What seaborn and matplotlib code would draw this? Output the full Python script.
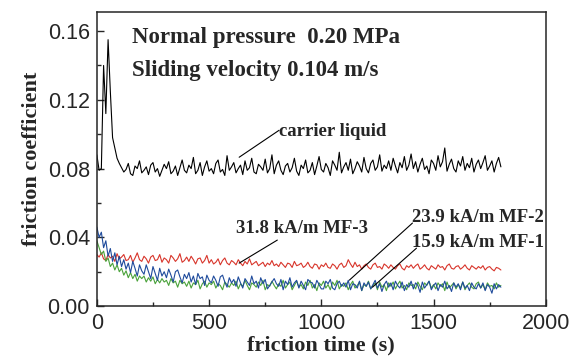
import numpy as np
import pandas as pd
import matplotlib
matplotlib.use("Agg")
import matplotlib.pyplot as plt
import seaborn as sns

# friction time (s), one reading every 10 s
time_s = np.arange(0, 1810, 10)

# friction coefficient readings, in units of 1e-4
carrier = [880, 790, 800, 1400, 1120, 1550, 1250, 980, 920, 860, 830,
           805, 780, 795, 830, 770, 760, 815, 800, 845, 775,
           790, 810, 765, 820, 835, 780, 800, 755, 790, 825,
           800, 840, 770, 785, 815, 760, 805, 850, 790, 775,
           820, 800, 865, 770, 790, 835, 760, 810, 845, 785,
           800, 770, 830, 850, 780, 795, 760, 875, 790, 810,
           835, 775, 800, 820, 765, 845, 790, 805, 860, 780,
           770, 825, 810, 790, 855, 775, 800, 880, 770, 820,
           845, 790, 765, 815, 830, 780, 805, 860, 785, 760,
           820, 800, 850, 775, 790, 835, 765, 815, 870, 795,
           780, 830, 805, 760, 845, 820, 790, 895, 775, 810,
           835, 790, 855, 770, 800, 840, 815, 780, 865, 800,
           775, 830, 850, 790, 810, 880, 785, 820, 800, 845,
           790, 860, 815, 775, 835, 805, 870, 790, 820, 885,
           800, 840, 780, 825, 860, 795, 815, 770, 850, 830,
           790, 875, 810, 840, 920, 785, 825, 855, 800, 780,
           845, 815, 870, 790, 830, 805, 860, 780, 825, 850,
           800, 835, 875, 790, 815, 845, 780, 830, 865, 810]

mf3 = [300, 285, 310, 275, 265, 300, 280, 290, 260, 305, 275,
       285, 300, 265, 270, 295, 255, 280, 310, 270, 260,
       290, 275, 250, 285, 295, 265, 270, 300, 255, 280,
       270, 250, 295, 280, 260, 275, 305, 255, 265, 285,
       260, 290, 270, 245, 275, 280, 250, 265, 295, 250,
       270, 245, 255, 275, 240, 265, 280, 250, 240, 265,
       255, 240, 270, 250, 235, 260, 245, 275, 240, 250,
       260, 235, 245, 255, 230, 250, 240, 265, 235, 245,
       230, 255, 240, 225, 250, 245, 225, 260, 235, 240,
       250, 225, 235, 255, 230, 220, 245, 240, 215, 240,
       230, 250, 225, 220, 245, 235, 215, 240, 250, 225,
       235, 270, 245, 225, 255, 230, 240, 215, 235, 245,
       225, 215, 240, 250, 225, 230, 215, 245, 235, 220,
       240, 225, 215, 235, 245, 220, 210, 235, 225, 240,
       220, 235, 245, 215, 225, 240, 220, 210, 235, 225,
       215, 240, 225, 230, 210, 235, 245, 220, 215, 230,
       235, 215, 225, 240, 220, 210, 235, 225, 215, 230,
       220, 235, 210, 225, 230, 215, 205, 225, 220, 210]

mf2 = [460, 400, 430, 340, 380, 290, 335, 260, 310, 240, 290,
       230, 270, 215, 250, 195, 260, 220, 175, 240, 205,
       185, 240, 200, 160, 230, 190, 150, 220, 175, 200,
       165, 215, 180, 140, 200, 210, 170, 135, 185, 160,
       195, 140, 175, 125, 190, 160, 170, 120, 180, 150,
       135, 175, 150, 115, 170, 180, 140, 110, 165, 135,
       155, 115, 170, 135, 105, 160, 140, 120, 175, 130,
       145, 105, 165, 130, 155, 100, 120, 140, 160, 130,
       115, 155, 95, 145, 125, 165, 110, 135, 150, 105,
       145, 120, 95, 155, 140, 135, 105, 150, 125, 100,
       100, 145, 130, 155, 105, 95, 130, 145, 115, 135,
       110, 150, 95, 130, 125, 105, 145, 90, 135, 115,
       140, 100, 125, 150, 105, 130, 85, 125, 145, 110,
       135, 95, 145, 120, 105, 140, 90, 125, 110, 145,
       100, 135, 120, 80, 140, 105, 125, 145, 95, 120,
       135, 90, 125, 110, 145, 100, 120, 85, 135, 110,
       130, 95, 140, 105, 120, 90, 135, 110, 100, 130,
       105, 135, 90, 125, 110, 75, 130, 100, 125, 110]

mf1 = [380, 340, 300, 320, 260, 280, 230, 250, 210, 240, 200,
       220, 180, 205, 165, 195, 160, 185, 145, 175, 160,
       175, 140, 165, 145, 170, 130, 155, 135, 160, 140,
       150, 120, 160, 135, 145, 110, 150, 130, 140, 115,
       145, 105, 135, 125, 150, 100, 130, 145, 110, 135,
       125, 145, 105, 130, 120, 95, 140, 125, 110, 135,
       120, 145, 100, 130, 115, 150, 120, 95, 135, 125,
       110, 140, 120, 150, 95, 125, 115, 145, 120, 100,
       130, 115, 150, 105, 125, 140, 95, 120, 145, 110,
       125, 100, 140, 120, 150, 105, 125, 90, 135, 120,
       145, 105, 125, 95, 140, 120, 150, 100, 125, 115,
       135, 95, 125, 145, 105, 120, 140, 90, 125, 115,
       145, 100, 120, 135, 95, 140, 110, 125, 90, 135,
       115, 140, 100, 125, 145, 105, 120, 95, 135, 120,
       125, 100, 140, 115, 95, 135, 120, 145, 105, 125,
       100, 135, 115, 130, 90, 140, 105, 120, 135, 100,
       125, 105, 140, 95, 120, 135, 110, 100, 130, 140,
       105, 125, 95, 135, 115, 120, 100, 135, 110, 120]

df = pd.DataFrame({"time": time_s,
                   "carrier": np.array(carrier) / 1e4,
                   "mf3": np.array(mf3) / 1e4,
                   "mf1": np.array(mf1) / 1e4,
                   "mf2": np.array(mf2) / 1e4})

sns.set_style("ticks")
plt.rcParams["font.family"] = ["Liberation Sans", "DejaVu Sans"]
serif = ["Liberation Serif", "DejaVu Serif"]

fig = plt.figure(figsize=(5.8, 3.58), dpi=100)
ax = fig.add_axes([0.167, 0.145, 0.774, 0.821])

sns.lineplot(data=df, x="time", y="carrier", color="black", lw=0.8, ax=ax)
sns.lineplot(data=df, x="time", y="mf3", color="#d8352b", lw=0.8, ax=ax)
sns.lineplot(data=df, x="time", y="mf1", color="#4aa23a", lw=0.8, ax=ax)
sns.lineplot(data=df, x="time", y="mf2", color="#1f4b9c", lw=0.8, ax=ax)

ax.set_xlim(0, 2000)
ax.set_ylim(0, 0.171)
ax.set_xticks([0, 500, 1000, 1500, 2000])
ax.set_xticks([250, 750, 1250, 1750], minor=True)
ax.set_yticks([0, 0.04, 0.08, 0.12, 0.16])
ax.set_yticks([0.02, 0.06, 0.10, 0.14], minor=True)
ax.set_yticklabels(["0.00", "0.04", "0.08", "0.12", "0.16"])
ax.tick_params(which="major", direction="in", length=5, width=1,
               labelsize=15.5, pad=5)
ax.tick_params(which="minor", direction="in", length=3, width=1)
for s in ax.spines.values():
    s.set_linewidth(1.1)

ax.set_xlabel("friction time (s)", family=serif, fontweight="bold",
              fontsize=16, labelpad=1)
ax.set_ylabel("friction coefficient", family=serif, fontweight="bold",
              fontsize=16, labelpad=4)

ax.text(156, 0.156, "Normal pressure  0.20 MPa", family=serif,
        fontweight="bold", fontsize=16.5, va="center")
ax.text(156, 0.137, "Sliding velocity 0.104 m/s", family=serif,
        fontweight="bold", fontsize=16.5, va="center")

labels = [("carrier liquid", 812, 0.1017, (812, 0.1023), (634, 0.0866)),
          ("31.8 kA/m MF-3", 620, 0.0453, (804, 0.0384), (634, 0.0250)),
          ("23.9 kA/m MF-2", 1402, 0.0517, (1406, 0.0483), (1125, 0.0151)),
          ("15.9 kA/m MF-1", 1406, 0.0372, (1424, 0.0337), (1228, 0.0110))]
for txt, tx, ty, p0, p1 in labels:
    ax.text(tx, ty, txt, family=serif, fontweight="bold", fontsize=13.5,
            va="center")
    ax.plot([p0[0], p1[0]], [p0[1], p1[1]], color="black", lw=0.8)

fig.savefig("out.png", dpi=100)
